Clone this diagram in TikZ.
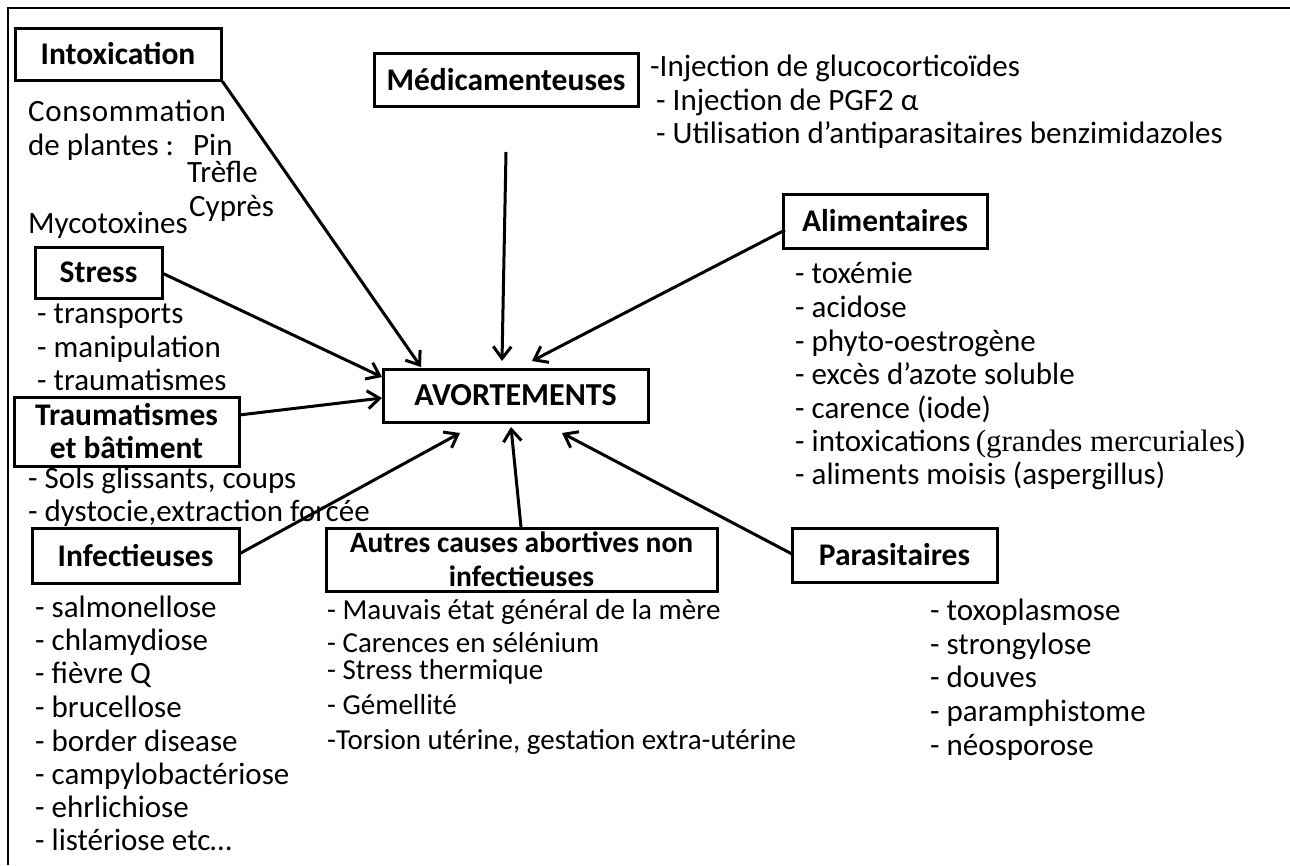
\documentclass[tikz,border=0pt]{standalone}
\usepackage{fontspec}
\setmainfont{Carlito}
\newfontfamily\tnr{Liberation Serif}
\newfontfamily\wide{Carlito}[LetterSpace=2]
\usetikzlibrary{arrows.meta}
\begin{document}
\begin{tikzpicture}[x=1pt,y=-1pt,
  every node/.style={font=\fontsize{31}{33}\selectfont},
  box/.style={draw, line width=3pt, align=center, inner sep=0pt, font=\fontsize{31.5}{33}\selectfont\bfseries},
  txt/.style={anchor=base west, inner sep=0pt},
  small/.style={font=\fontsize{29}{33}\selectfont},
  arr/.style={line width=3pt, -{Straight Barb[length=12pt,width=18pt,line width=3pt]}}]
\useasboundingbox (0,0) rectangle (1290,865);
% frame
\draw[line width=2.5pt] (8,865) -- (8,8) -- (1290,8);

% boxes
\node[box, minimum width=206, minimum height=52] (intox) at (118,54) {Intoxication};
\node[box, minimum width=264, minimum height=53] (medic) at (506,80) {Médicamenteuses};
\node[box, minimum width=204, minimum height=54] (alim) at (885,221) {Alimentaires};
\node[box, minimum width=127, minimum height=51] (stress) at (98.5,272.5) {Stress};
\node[box, minimum width=265, minimum height=53, font=\fontsize{32}{33}\selectfont\bfseries] (avort) at (515.5,395.5) {AVORTEMENTS};
\node[box, minimum width=225, minimum height=69] (trauma) at (126.5,431.5) {Traumatismes\\et bâtiment};
\node[box, minimum width=207, minimum height=55] (infect) at (135.5,555.5) {Infectieuses};
\node[box, minimum width=391, minimum height=63, font=\fontsize{29.5}{34}\selectfont\bfseries] (autres) at (521.5,559.5) {Autres causes abortives non\\infectieuses};
\node[box, minimum width=205, minimum height=54] (parasit) at (894.5,555) {Parasitaires};

% Intoxication texts
\node[txt] (c1) at (28,121) {\wide Consommation};
\node[txt] (c2) at (28,155) {de plantes :};
\node[txt] (c3) at (193,155) {Pin};
\node[txt] (c4) at (187,182) {Trèfle};
\node[txt] (c5) at (189,216) {Cyprès};
\node[txt] (c6) at (28,233) {Mycotoxines};

% Medicamenteuses texts
\node[txt] (m1) at (650,76) {-Injection de glucocorticoïdes};
\node[txt] (m2) at (656,110) {- Injection de PGF2 α};
\node[txt] (m3) at (656,143) {- Utilisation d’antiparasitaires benzimidazoles};

% Alimentaires texts
\node[txt] (a1) at (795,283) {- toxémie};
\node[txt] (a2) at (795,317) {- acidose};
\node[txt] (a3) at (795,351) {- phyto-oestrogène};
\node[txt] (a4) at (795,384) {- excès d’azote soluble};
\node[txt] (a5) at (795,418) {- carence (iode)};
\node[txt] (a6) at (795,451) {- intoxications\,{\tnr\fontsize{31}{33}\selectfont(grandes mercuriales)}};
\node[txt] (a7) at (795,484) {- aliments moisis (aspergillus)};

% Stress texts
\node[txt] (s1) at (37,323) {- transports};
\node[txt] (s2) at (37,357) {- manipulation};
\node[txt] (s3) at (37,390) {- traumatismes};

% Traumatismes texts
\node[txt] (t1) at (28,488) {- Sols glissants, coups};
\node[txt] (t2) at (28,521) {- dystocie,extraction forcée};

% Infectieuses texts
\node[txt] (i1) at (35,617) {- salmonellose};
\node[txt] (i2) at (35,650) {- chlamydiose};
\node[txt] (i3) at (35,683) {- fièvre Q};
\node[txt] (i4) at (35,717) {- brucellose};
\node[txt] (i5) at (35,751) {- border disease};
\node[txt] (i6) at (35,784) {- campylobactériose};
\node[txt] (i7) at (35,817) {- ehrlichiose};
\node[txt] (i8) at (35,850) {- listériose etc…};

% Autres texts
\node[txt, small] (o1) at (327,619) {- Mauvais état général de la mère};
\node[txt, small] (o2) at (327,652) {- Carences en sélénium};
\node[txt, small] (o3) at (327,679) {- Stress thermique};
\node[txt, small] (o4) at (327,714) {- Gémellité};
\node[txt, small] (o5) at (327,749) {-Torsion utérine, gestation extra-utérine};

% Parasitaires texts
\node[txt] (p1) at (930,620) {- toxoplasmose};
\node[txt] (p2) at (930,654) {- strongylose};
\node[txt] (p3) at (930,687) {- douves};
\node[txt] (p4) at (930,721) {- paramphistome};
\node[txt] (p5) at (930,755) {- néosporose};

% arrow end points
\coordinate (e1) at (421,367);
\coordinate (s2a) at (506,152);
\coordinate (e2) at (502,361);
\coordinate (s3a) at (785,230);
\coordinate (e3) at (532,361);
\coordinate (s4a) at (162,273);
\coordinate (e4) at (382,377);
\coordinate (s5a) at (239,415);
\coordinate (e5) at (382,398);
\coordinate (s6a) at (239,554);
\coordinate (e6) at (460,433);
\coordinate (s7a) at (521,527);
\coordinate (e7) at (511,427);
\coordinate (s8a) at (792,554);
\coordinate (e8) at (562,433);

\draw[arr] (intox.south east) -- (e1);
\draw[arr] (s2a) -- (e2);
\draw[arr] (s3a) -- (e3);
\draw[arr] (s4a) -- (e4);
\draw[arr] (s5a) -- (e5);
\draw[arr] (s6a) -- (e6);
\draw[arr] (s7a) -- (e7);
\draw[arr] (s8a) -- (e8);
\end{tikzpicture}
\end{document}
